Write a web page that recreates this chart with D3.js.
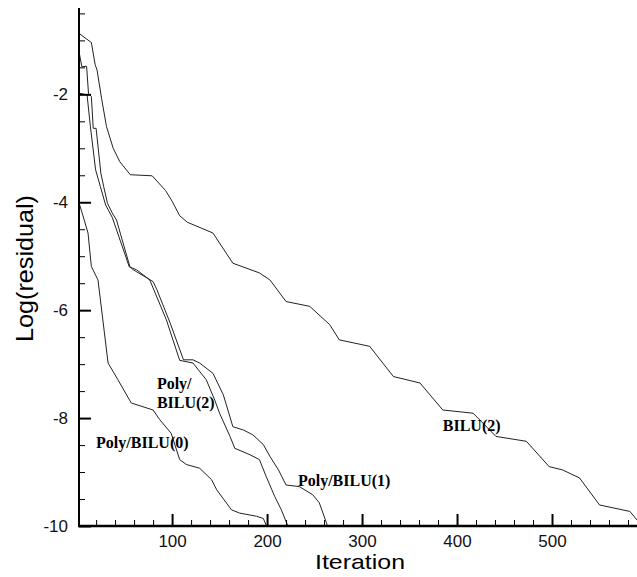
<!DOCTYPE html>
<html>
<head>
<meta charset="utf-8">
<script src="https://cdn.jsdelivr.net/npm/d3@7"></script>
<style>
  body { margin: 0; background: #fff; }
</style>
</head>
<body>
<div id="chart"></div>
<script>
// axis extents and ticks
const xDomain = [2, 590];
const yDomain = [-10, -0.4];
const xMajorTicks = [100, 200, 300, 400, 500];
const xMinorTicks = [20, 40, 60, 80, 120, 140, 160, 180, 220, 240, 260, 280, 320, 340, 360, 380,
                     420, 440, 460, 480, 520, 540, 560, 580];
const yMajorTicks = [-10, -8, -6, -4, -2];
const yMinorTicks = [-9.5, -9, -8.5, -7.5, -7, -6.5, -5.5, -5, -4.5, -3.5, -3, -2.5, -1.5, -1, -0.5];

// [iteration, log10(residual)]
const bilu2 = [[2, -0.87], [15, -1.04], [19, -1.45], [21, -1.55], [26, -2.1], [31, -2.6], [38, -3.0],
  [45, -3.25], [56, -3.49], [79, -3.51], [93, -3.78], [100, -3.98], [108, -4.25], [116, -4.37],
  [143, -4.57], [164, -5.13], [192, -5.31], [203, -5.44], [220, -5.84], [245, -5.93], [266, -6.27],
  [276, -6.55], [308, -6.67], [333, -7.23], [361, -7.35], [385, -7.85], [417, -7.91], [441, -8.34],
  [473, -8.43], [497, -8.9], [511, -8.96], [529, -9.11], [550, -9.61], [582, -9.73], [590, -9.9]];

const polyBilu1 = [[2, -1.21], [5, -1.49], [10, -1.48], [12, -1.98], [15, -2.04], [17, -2.63], [20, -2.63],
  [25, -3.46], [28, -3.71], [32, -4.02], [37, -4.2], [41.5, -4.33], [55.5, -5.19], [59, -5.25],
  [80, -5.47], [84, -5.62], [98, -6.24], [112, -6.92], [122, -6.92], [129, -6.98], [143, -7.17],
  [154, -7.57], [164, -8.16], [175, -8.22], [185, -8.31], [196, -8.49], [203, -8.71], [212, -8.96],
  [220, -9.24], [234, -9.27], [248, -9.42], [255, -9.57], [262.5, -9.94], [263.5, -10]];

const polyBilu2 = [[2, -1.5], [2.5, -1.98], [10.5, -2.01], [14, -2.6], [19.5, -3.4], [24.5, -3.71],
  [30, -4.05], [37, -4.28], [55, -5.2], [62.5, -5.25], [76.5, -5.44], [94, -6.18], [108, -6.93],
  [122, -6.98], [136, -7.29], [145, -7.67], [150, -7.91], [161, -8.34], [166, -8.56], [182, -8.68],
  [192, -8.77], [199, -9.08], [208, -9.45], [215, -9.7], [220.5, -9.94], [222, -10]];

const polyBilu0 = [[2, -4.01], [6, -4.24], [11.5, -4.57], [15, -5.19], [22, -5.44], [32.6, -6.98],
  [38, -7.14], [43, -7.29], [57, -7.72], [80, -7.85], [87, -8.03], [99, -8.28], [108, -8.77],
  [115, -8.86], [129, -8.93], [141.5, -9.14], [147, -9.33], [162.5, -9.7], [171, -9.76],
  [189, -9.82], [196, -9.86], [199.5, -10]];

// curve labels: text lines and where they sit (data units)
const curveLabels = [
  { lines: ["Poly/BILU(0)"], at: [20, -8.56] },
  { lines: ["Poly/", "BILU(2)"], at: [84, -7.46] },
  { lines: ["Poly/BILU(1)"], at: [232.5, -9.26] },
  { lines: ["BILU(2)"], at: [385, -8.24] }
];

const width = 637;
const height = 577;

const x = d3.scaleLinear().domain(xDomain).range([79, 637.5]);
const y = d3.scaleLinear().domain(yDomain).range([526, 8]);

const svg = d3.select("#chart").append("svg")
    .attr("width", width)
    .attr("height", height)
    .attr("viewBox", [0, 0, width, height]);

const line = d3.line()
    .x(d => x(d[0]))
    .y(d => y(d[1]));

svg.append("g")
    .attr("fill", "none")
    .attr("stroke", "#222")
    .attr("stroke-width", 1)
    .selectAll("path")
    .data([bilu2, polyBilu1, polyBilu2, polyBilu0])
    .join("path")
    .attr("d", line);

// x axis: minor then major ticks, pointing inward
svg.append("g")
    .attr("transform", `translate(0,${y(-10)})`)
    .call(d3.axisBottom(x).tickValues(xMinorTicks).tickSize(-6).tickFormat(""))
    .call(g => g.select(".domain").remove())
    .call(g => g.selectAll(".tick line").attr("stroke", "#000").attr("stroke-width", 1));

svg.append("g")
    .attr("transform", `translate(0,${y(-10)})`)
    .call(d3.axisBottom(x).tickValues(xMajorTicks).tickSize(-12).tickPadding(9))
    .call(g => g.select(".domain").remove())
    .call(g => g.selectAll(".tick line").attr("stroke", "#000").attr("stroke-width", 2))
    .call(g => g.selectAll(".tick text")
        .attr("font-family", "'Liberation Sans', Arial, sans-serif")
        .attr("font-size", 17)
        .attr("fill", "#111"));

// y axis
svg.append("g")
    .attr("transform", `translate(${x(xDomain[0])},0)`)
    .call(d3.axisLeft(y).tickValues(yMinorTicks).tickSize(-6).tickFormat(""))
    .call(g => g.select(".domain").remove())
    .call(g => g.selectAll(".tick line").attr("stroke", "#000").attr("stroke-width", 1));

svg.append("g")
    .attr("transform", `translate(${x(xDomain[0])},0)`)
    .call(d3.axisLeft(y).tickValues(yMajorTicks).tickSize(-12).tickPadding(11).tickFormat(d => String(d)))
    .call(g => g.select(".domain").remove())
    .call(g => g.selectAll(".tick line").attr("stroke", "#000").attr("stroke-width", 2))
    .call(g => g.selectAll(".tick text")
        .attr("font-family", "'Liberation Sans', Arial, sans-serif")
        .attr("font-size", 17)
        .attr("fill", "#111"));

// axis lines
svg.append("line")
    .attr("x1", x(xDomain[0]) - 1).attr("x2", x(xDomain[1]))
    .attr("y1", y(yDomain[0])).attr("y2", y(yDomain[0]))
    .attr("stroke", "#000").attr("stroke-width", 2.5);

svg.append("line")
    .attr("x1", x(xDomain[0])).attr("x2", x(xDomain[0]))
    .attr("y1", y(yDomain[0])).attr("y2", y(yDomain[1]))
    .attr("stroke", "#000").attr("stroke-width", 2);

// axis titles
svg.append("text")
    .attr("x", 315)
    .attr("y", 569)
    .attr("font-family", "'Liberation Sans', Arial, sans-serif")
    .attr("font-size", 21)
    .attr("textLength", 90)
    .attr("lengthAdjust", "spacingAndGlyphs")
    .text("Iteration");

svg.append("text")
    .attr("transform", "translate(33,342) rotate(-90)")
    .attr("font-family", "'Liberation Sans', Arial, sans-serif")
    .attr("font-size", 24)
    .attr("textLength", 147)
    .attr("lengthAdjust", "spacingAndGlyphs")
    .text("Log(residual)");

// curve labels
const lbl = svg.append("g")
    .attr("font-family", "'Liberation Serif', 'Times New Roman', serif")
    .attr("font-weight", "bold")
    .attr("font-size", 16)
    .attr("fill", "#000")
    .selectAll("text")
    .data(curveLabels)
    .join("text")
    .attr("x", d => x(d.at[0]))
    .attr("y", d => y(d.at[1]));

lbl.selectAll("tspan")
    .data(d => d.lines.map((t, i) => ({ t, i, x: x(d.at[0]) })))
    .join("tspan")
    .attr("x", d => d.x)
    .attr("dy", d => d.i === 0 ? 0 : 19)
    .text(d => d.t);
</script>
</body>
</html>
